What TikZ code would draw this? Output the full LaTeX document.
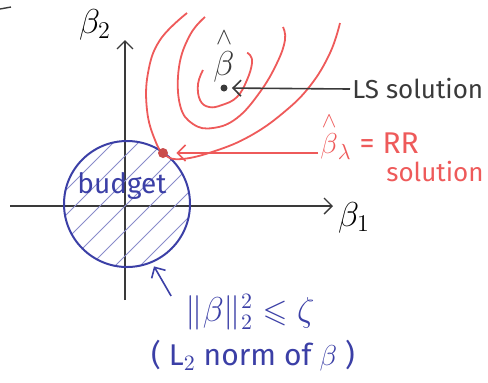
\documentclass[tikz,border=0pt]{standalone}
\usepackage{amsmath,amssymb}
\usepackage{fontspec}
\setmainfont{Fira Sans}
\usetikzlibrary{arrows.meta,positioning,calc}
\definecolor{Ink}{HTML}{3A3A3A}
\definecolor{Pen}{HTML}{3B3FA6}
\definecolor{Marker}{HTML}{EE5A5A}
\tikzset{
  axis/.style={draw=Ink, line width=0.7pt, -{Straight Barb[length=4pt,width=8pt]}},
  contour/.style={draw=Marker, line width=0.9pt},
  hatch/.style={draw=Pen!60, line width=0.4pt},
  ptr/.style={line width=0.8pt, -{Straight Barb[length=4pt,width=8pt]}},
  lbl/.style={font=\fontsize{13}{15}\selectfont, inner sep=1pt},
  biglbl/.style={font=\fontsize{17}{20}\selectfont, inner sep=1pt},
  dot/.style={circle, fill=#1, inner sep=0pt, minimum size=3.5pt},
  dot/.default={Ink},
}

\begin{document}
\begin{tikzpicture}[x=0.5pt, y=-0.5pt]
  \useasboundingbox (0,0) rectangle (488,382);
  % axes
  \coordinate (xl) at (10,206);
  \coordinate (xr) at (333,206);
  \coordinate (yb) at (125,300);
  \coordinate (yt) at (125,40);
  \draw[axis] (xl) -- (xr);
  \draw[axis] (yb) -- (yt);
  \node[biglbl] (b1) at (354,218) {$\beta_1$};
  \node[biglbl] (b2) at (95,25) {$\beta_2$};
  \draw[Ink, line width=0.7pt] (0,9) -- (11,7);

  % budget disc
  \begin{scope}
    \clip (127,204) circle[radius=31.5pt];
    \foreach \d in {-150,-125,...,150}
      \draw[hatch] ($(127,204)+(\d,0)+(-90,90)$) -- ++(180,-180);
  \end{scope}
  \node[circle, draw=Pen, line width=1pt, minimum size=63pt, inner sep=0pt]
    (ball) at (127,204) {};
  \node[font=\fontsize{14}{16}\selectfont, text=Pen] (bud) at (122,186) {budget};

  % RSS contours
  \draw[contour] plot[smooth, tension=0.7] coordinates {
    (187,13) (160,40) (148,73) (147,110) (155,140) (165,155) (182,159)
    (215,151) (250,136) (283,113) (310,86) (330,53) (340,23)};
  \draw[contour] plot[smooth, tension=0.7] coordinates {
    (205,17) (190,35) (179,67) (180,105) (193,124) (213,128) (237,118)
    (260,92) (277,63) (285,40) (283,27)};
  \draw[contour] plot[smooth, tension=0.7] coordinates {
    (203,70) (198,84) (200,100) (209,107) (222,105) (237,97) (247,80)
    (252,63) (250,55) (247,53)};

  % LS solution
  \node[dot] (lsdot) at (224,88) {};
  \node[biglbl, text=Ink] (bhat) at (224,55) {$\overset{\wedge}{\beta}$};
  \node[lbl, text=Ink, anchor=west] (ls) at (350,89) {LS solution};
  \draw[ptr, Ink, shorten >=2pt] (ls.west) -- (lsdot);

  % RR solution
  \node[dot=Marker!85!black, minimum size=5pt] (rr) at (163,153) {};
  \node[font=\fontsize{15}{17}\selectfont, inner sep=1pt, text=Marker, anchor=base west]
    (rrlab) at (318,153) {$\overset{\wedge}{\beta}_\lambda$ = RR};
  \node[lbl, text=Marker, anchor=base] (rrsol) at (435,181) {solution};
  \draw[ptr, Marker, shorten >=4pt] (rrlab.west |- rr) -- (rr);

  % constraint
  \node[font=\fontsize{16}{18}\selectfont, text=Pen, inner sep=1pt]
    (nrm) at (250,312) {$\|\beta\|_2^2 \leqslant \zeta$};
  \node[font=\fontsize{15}{18}\selectfont, text=Pen, inner sep=1pt]
    (l2) at (253,356) {( L$_2$ norm of $\beta$ )};
  \draw[ptr, Pen, shorten >=2pt] ([shift={(-6pt,-2pt)}]nrm.north west) -- (ball.-67);
\end{tikzpicture}
\end{document}
